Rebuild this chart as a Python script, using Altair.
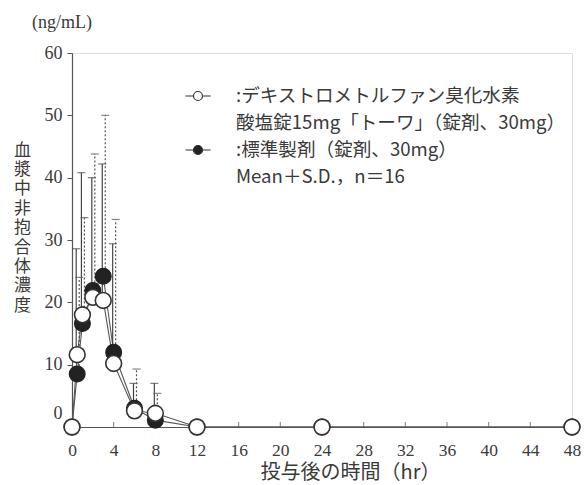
import altair as alt
import pandas as pd

# ---------------- data ----------------
times = [0, 0.5, 1, 2, 3, 4, 6, 8, 12, 24, 48]
test_mean = [0, 11.6, 18.0, 20.8, 20.3, 10.2, 2.6, 2.2, 0, 0, 0]
test_sd = [0, 17.0, 22.8, 19.2, 21.9, 19.2, 4.4, 4.8, 0, 0, 0]
ref_mean = [0, 8.5, 16.6, 21.9, 24.2, 12.0, 3.0, 1.1, 0, 0, 0]
ref_sd = [0, 15.5, 17.0, 21.9, 25.8, 21.3, 6.3, 4.3, 0, 0, 0]

# legend rows: text line, which symbol it carries ("open", "filled" or "")
legend_rows = [":デキストロメトルファン臭化水素", "酸塩錠15mg「トーワ」（錠剤、30mg）",
               ":標準製剤（錠剤、30mg）", "Mean＋S.D.，n＝16"]
legend_marks = ["open", "", "filled", ""]

x_ticks = list(range(0, 49, 4))
y_ticks = [0, 10, 20, 30, 40, 50, 60]
x_title = "投与後の時間（hr）"
y_title = "血漿中非抱合体濃度"
unit_label = "(ng/mL)"

# ---------------- tables ----------------
rows = []
for key, means, sds in (("test", test_mean, test_sd), ("ref", ref_mean, ref_sd)):
    for t, m, s in zip(times, means, sds):
        rows.append({"time": t, "mean": m, "sd": s, "top": m + s, "series": key})
df = pd.DataFrame(rows)
legend_df = pd.DataFrame({"entry": legend_rows, "kind": legend_marks})
tick_df = pd.DataFrame({"time": x_ticks[1:], "zero": 0})

jp_font = "Noto Sans CJK JP"
num_font = "Liberation Serif"
ink = "#3a3a3a"

x_axis = alt.Axis(
    values=x_ticks, title=x_title, titleFont=jp_font, titleFontSize=20,
    titleFontWeight="normal", titleColor=ink, titleX=278, titleY=45,
    titleAlign="center", titleBaseline="middle",
    labelFont=num_font, labelFontSize=17.5, labelColor=ink, labelPadding=14,
    ticks=False, tickSize=0, domainColor="#555", domainWidth=1.2,
    grid=False, labelFlush=False,
)
y_axis = alt.Axis(
    values=y_ticks, title=list(y_title), titleAngle=0, titleFont=jp_font,
    titleFontSize=17, titleFontWeight="normal", titleColor=ink,
    titleX=-50, titleY=89, titleAlign="center", titleBaseline="top",
    titleLineHeight=19.4,
    labelFont=num_font, labelFontSize=18, labelColor=ink, labelPadding=5,
    labelOffset={"condition": {"test": "datum.value === 0", "value": -14}, "value": 0},
    tickSize=5, tickColor="#555", domainColor="#555", domainWidth=1.2,
    grid=False,
)

x_enc = alt.X("time:Q", scale=alt.Scale(domain=[0, 48], nice=False), axis=x_axis)
y_scale = alt.Scale(domain=[0, 60], nice=False)


def y_enc(field):
    return alt.Y(f"{field}:Q", scale=y_scale, axis=y_axis)


base = alt.Chart(df)

# inward x ticks, standing on the axis line
x_tick_marks = alt.Chart(tick_df).mark_tick(
    color="#555", orient="vertical", size=5, thickness=1.1, yOffset=-2.5
).encode(x=x_enc, y=y_enc("zero"))

lines = base.mark_line(color="#555", strokeWidth=1.1).encode(
    x=x_enc, y=y_enc("mean"), detail="series:N"
)

test_err = base.transform_filter("datum.series === 'test' && datum.sd > 0")
ref_err = base.transform_filter("datum.series === 'ref' && datum.sd > 0")

test_bars = test_err.mark_rule(color="#444", strokeWidth=1.2, xOffset=-1).encode(
    x=x_enc, y=y_enc("mean"), y2="top:Q"
)
test_caps = test_err.mark_tick(
    color="#444", orient="horizontal", size=8, thickness=1.2, xOffset=-1
).encode(x=x_enc, y=y_enc("top"))
ref_bars = ref_err.mark_rule(
    color="#555", strokeWidth=1.2, strokeDash=[2, 2], xOffset=2
).encode(x=x_enc, y=y_enc("mean"), y2="top:Q")
ref_caps = ref_err.mark_tick(
    color="#555", orient="horizontal", size=8, thickness=1.2, xOffset=2
).encode(x=x_enc, y=y_enc("top"))

ref_pts = base.transform_filter("datum.series === 'ref'").mark_point(
    filled=True, size=250, color="#222", stroke="#222", strokeWidth=1.2, opacity=1
).encode(x=x_enc, y=y_enc("mean"))
test_pts = base.transform_filter("datum.series === 'test'").mark_point(
    filled=True, size=250, fill="white", stroke="#333", strokeWidth=1.6, opacity=1
).encode(x=x_enc, y=y_enc("mean"))

# legend: line-with-circle symbols (custom paths), text rows as entries
r = 0.5
line_circle = (f"M-1.4,0L-{r},0M{r},0L1.4,0"
               f"M{r},0A{r},{r},0,1,1,-{r},0A{r},{r},0,1,1,{r},0Z")
blank = "M0,0"
shape_range = [line_circle if k else blank for k in legend_marks]
fill_range = ["white" if k == "open" else ("#222" if k == "filled" else "transparent")
              for k in legend_marks]
stroke_range = ["#333" if k else "transparent" for k in legend_marks]

leg = alt.Legend(
    title=None, orient="none", legendX=116, legendY=33, direction="vertical",
    labelFont=jp_font, labelFontSize=18.6, labelColor=ink,
    labelLimit=600, labelOffset=28, symbolSize=324,
    symbolStrokeWidth=1.2, symbolOpacity=1,
    rowPadding=7, padding=0,
)
legend_layer = alt.Chart(legend_df).mark_point(filled=True, size=0, opacity=0).encode(
    shape=alt.Shape("entry:N", scale=alt.Scale(domain=legend_rows, range=shape_range), legend=leg),
    fill=alt.Fill("entry:N", scale=alt.Scale(domain=legend_rows, range=fill_range), legend=leg),
    stroke=alt.Stroke("entry:N", scale=alt.Scale(domain=legend_rows, range=stroke_range), legend=leg),
)

chart = alt.layer(
    x_tick_marks, lines, test_bars, test_caps, ref_bars, ref_caps, ref_pts, test_pts,
    legend_layer
).properties(
    width=500, height=374,
    title=alt.TitleParams(
        unit_label, anchor="start", frame="group", dx=-40, offset=12, font=num_font,
        fontSize=18, fontWeight="normal", color=ink,
    ),
    padding={"left": 72, "top": 53, "right": 13, "bottom": 58},
    autosize=alt.AutoSizeParams(type="none"),
).configure_view(stroke=None).configure(background="white")

chart.save("out.html", embed_options={"renderer": "svg", "actions": False})
